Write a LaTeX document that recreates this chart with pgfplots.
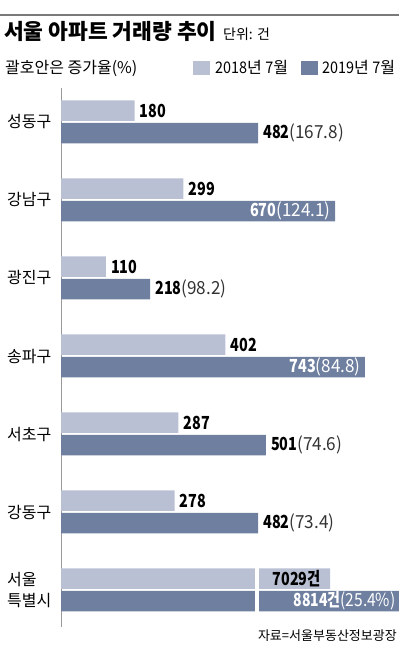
\documentclass[border=0pt]{standalone}
\usepackage{fontspec}
\setmainfont{Noto Sans CJK KR}
\usepackage{graphicx}
\usepackage{pgfplots}
\pgfplotsset{compat=1.18}
\definecolor{lightbar}{HTML}{BAC0D3}
\definecolor{darkbar}{HTML}{6E7FA0}
\definecolor{paren}{HTML}{333333}
\definecolor{rule}{HTML}{7A7A7A}
\newcommand\cb[1]{\scalebox{0.8}[1]{\textbf{#1}}}
\newcommand\cp[1]{\scalebox{0.95}[1]{#1}}
\newcommand\cm[1]{\scalebox{0.9}[1]{#1}}
\newcommand\Lo[2]{\cb{#1}\textcolor{paren}{\cp{#2}}}
\newcommand\Li[2]{\llap{\textcolor{white}{\cb{#1}\cp{#2}}\hspace{10pt}}}
\begin{document}
\begin{tikzpicture}
\path[use as bounding box] (0pt,0pt) rectangle (399pt,652pt);
\draw[color=rule, line width=1.5pt] (0pt,637pt) -- (399pt,637pt);
\node[anchor=base west, inner sep=0pt, font=\fontsize{21.5}{24}\selectfont\bfseries] at (4pt,612pt) {서울 아파트 거래량 추이};
\node[anchor=base west, inner sep=0pt, font=\fontsize{14}{16}\selectfont] at (223pt,612pt) {단위: 건};
\node[anchor=base west, inner sep=0pt, font=\fontsize{16}{18}\selectfont] at (5pt,578pt) {괄호안은 증가율(\%)};
\fill[lightbar] (193pt,577pt) rectangle (210pt,591pt);
\node[anchor=base west, inner sep=0pt, font=\fontsize{16}{18}\selectfont] at (215pt,578pt) {\cm{2018}년 \cm{7}월};
\fill[darkbar] (301pt,577pt) rectangle (318pt,591pt);
\node[anchor=base west, inner sep=0pt, font=\fontsize{16}{18}\selectfont] at (322pt,578pt) {\cm{2019}년 \cm{7}월};
\node[anchor=base east, inner sep=0pt, font=\fontsize{13}{15}\selectfont] at (397pt,11pt) {자료=서울부동산정보광장};
\begin{axis}[
  at={(61pt,25pt)}, anchor=south west, scale only axis,
  width=338pt, height=539pt,
  xmin=0, xmax=826.4, ymin=-0.436, ymax=6.474, y dir=reverse,
  xbar, bar width=20.5pt,
  axis lines*=left, hide x axis,
  axis line style={draw=gray!80, line width=0.8pt},
  ytick={0,...,6},
  yticklabels={성동구,강남구,광진구,송파구,서초구,강동구,{서울\\특별시}},
  yticklabel style={align=left, anchor=west, inner sep=0pt, xshift=-54pt, font=\fontsize{16}{21}\selectfont},
  ytick style={draw=none}, major tick length=0pt,
  point meta=explicit symbolic,
  nodes near coords,
  every node near coord/.append style={anchor=west, inner sep=0pt, xshift=5pt, font=\fontsize{18}{20}\selectfont},
]
\addplot[fill=lightbar, draw=none, bar shift=11.5pt] coordinates {
 (180,0) [{\Lo{180}{}}]
 (299,1) [{\Lo{299}{}}]
 (110,2) [{\Lo{110}{}}]
 (402,3) [{\Lo{402}{}}]
 (287,4) [{\Lo{287}{}}]
 (278,5) [{\Lo{278}{}}]
 (658,6) [{\llap{\resizebox{48pt}{\height}{\textbf{7029건}}\hspace{15pt}}}]
};
\addplot[fill=darkbar, draw=none, bar shift=-11pt] coordinates {
 (482,0) [{\Lo{482}{(167.8)}}]
 (670,1) [{\Li{670}{(124.1)}}]
 (218,2) [{\Lo{218}{(98.2)}}]
 (743,3) [{\Li{743}{(84.8)}}]
 (501,4) [{\Lo{501}{(74.6)}}]
 (482,5) [{\Lo{482}{(73.4)}}]
 (826,6) [{\llap{\textcolor{white}{\resizebox{47pt}{\height}{\textbf{8814건}}\resizebox{55pt}{\height}{(25.4\%)}}\hspace{9pt}}}]
};
\fill[white] (axis cs:474,5.6) rectangle (axis cs:484,6.4);
\end{axis}
\end{tikzpicture}
\end{document}
